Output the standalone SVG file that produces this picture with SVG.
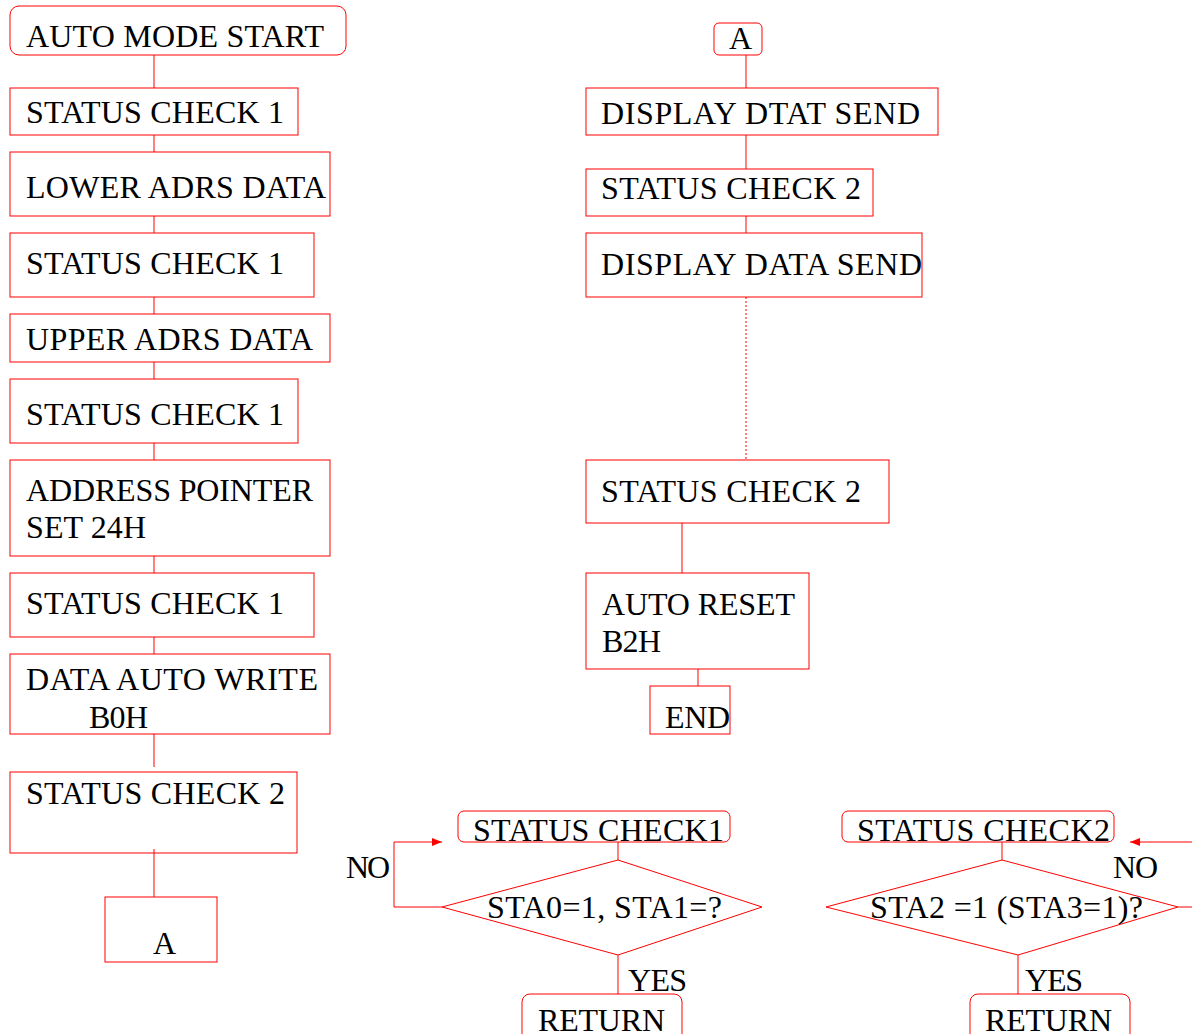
<svg xmlns="http://www.w3.org/2000/svg" width="1192" height="1034" viewBox="0 0 1192 1034">
<defs>
<style>
.b{fill:#fff;stroke:#f00;stroke-width:1}
.c{fill:none;stroke:#f00;stroke-width:1}
.d{fill:none;stroke:#f00;stroke-width:1;stroke-dasharray:2 2}
text{font-family:"Liberation Serif","Times New Roman",serif;font-size:32px;fill:#000}
</style>
<marker id="ah" viewBox="0 0 10 10" refX="10" refY="5" markerWidth="10" markerHeight="10" markerUnits="userSpaceOnUse" orient="auto"><path d="M0,1 L10,5 L0,9 Z" fill="#f00"/></marker>
</defs>
<rect width="1192" height="1034" fill="#fff"/>
<g id="connectors">
<line class="c" x1="154" y1="55" x2="154" y2="88"/>
<line class="c" x1="154" y1="135" x2="154" y2="152"/>
<line class="c" x1="154" y1="216" x2="154" y2="233"/>
<line class="c" x1="154" y1="297" x2="154" y2="314"/>
<line class="c" x1="154" y1="362" x2="154" y2="379"/>
<line class="c" x1="154" y1="443" x2="154" y2="460"/>
<line class="c" x1="154" y1="556" x2="154" y2="573"/>
<line class="c" x1="154" y1="637" x2="154" y2="654"/>
<line class="c" x1="154" y1="734" x2="154" y2="767"/>
<line class="c" x1="154" y1="849" x2="154" y2="897"/>
<line class="c" x1="746" y1="55" x2="746" y2="88"/>
<line class="c" x1="746" y1="135" x2="746" y2="169"/>
<line class="c" x1="746" y1="216" x2="746" y2="233"/>
<line class="d" x1="746" y1="297" x2="746" y2="460"/>
<line class="c" x1="682" y1="523" x2="682" y2="573"/>
<line class="c" x1="698" y1="669" x2="698" y2="686"/>
<line class="c" x1="618" y1="842" x2="618" y2="860"/>
<polyline class="c" points="442,907 394,907 394,842 442,842" marker-end="url(#ah)"/>
<line class="c" x1="618" y1="955" x2="618" y2="994"/>
<line class="c" x1="1002" y1="842" x2="1002" y2="860"/>
<line class="c" x1="1178" y1="907" x2="1192" y2="907"/>
<line class="c" x1="1192" y1="842" x2="1130" y2="842" marker-end="url(#ah)"/>
<line class="c" x1="1018" y1="955" x2="1018" y2="994"/>
</g>
<g id="n1"><rect class="b" x="10" y="6" width="336" height="49" rx="9"/><text x="26" y="47" textLength="298" lengthAdjust="spacing">AUTO MODE START</text></g>
<g id="n2"><rect class="b" x="10" y="88" width="288" height="47"/><text x="26" y="123" textLength="258" lengthAdjust="spacing">STATUS CHECK 1</text></g>
<g id="n3"><rect class="b" x="10" y="152" width="320" height="64"/><text x="26" y="198" textLength="300" lengthAdjust="spacing">LOWER ADRS DATA</text></g>
<g id="n4"><rect class="b" x="10" y="233" width="304" height="64"/><text x="26" y="274" textLength="258" lengthAdjust="spacing">STATUS CHECK 1</text></g>
<g id="n5"><rect class="b" x="10" y="314" width="320" height="48"/><text x="26" y="350" textLength="287" lengthAdjust="spacing">UPPER ADRS DATA</text></g>
<g id="n6"><rect class="b" x="10" y="379" width="288" height="64"/><text x="26" y="425" textLength="258" lengthAdjust="spacing">STATUS CHECK 1</text></g>
<g id="n7"><rect class="b" x="10" y="460" width="320" height="96"/><text x="26" y="501" textLength="287" lengthAdjust="spacing">ADDRESS POINTER</text><text x="26" y="538" textLength="120" lengthAdjust="spacing">SET 24H</text></g>
<g id="n8"><rect class="b" x="10" y="573" width="304" height="64"/><text x="26" y="614" textLength="258" lengthAdjust="spacing">STATUS CHECK 1</text></g>
<g id="n9"><rect class="b" x="10" y="654" width="320" height="80"/><text x="26" y="690" textLength="292" lengthAdjust="spacing">DATA AUTO WRITE</text><text x="89" y="728" textLength="59" lengthAdjust="spacing">B0H</text></g>
<g id="n10"><rect class="b" x="10" y="772" width="287" height="81"/><text x="26" y="804" textLength="259" lengthAdjust="spacing">STATUS CHECK 2</text></g>
<line class="c" x1="154" y1="849" x2="154" y2="853"/>
<g id="n11"><rect class="b" x="105" y="897" width="112" height="65"/><text x="153" y="954">A</text></g>
<g id="r1"><rect class="b" x="714" y="23" width="48" height="32" rx="5"/><text x="729" y="49">A</text></g>
<g id="r2"><rect class="b" x="586" y="88" width="352" height="47"/><text x="601" y="124" textLength="319" lengthAdjust="spacing">DISPLAY DTAT SEND</text></g>
<g id="r3"><rect class="b" x="586" y="169" width="287" height="47"/><text x="601" y="199" textLength="260" lengthAdjust="spacing">STATUS CHECK 2</text></g>
<g id="r4"><rect class="b" x="586" y="233" width="336" height="64"/><text x="601" y="275" textLength="321" lengthAdjust="spacing">DISPLAY DATA SEND</text></g>
<g id="r5"><rect class="b" x="586" y="460" width="303" height="63"/><text x="601" y="502" textLength="260" lengthAdjust="spacing">STATUS CHECK 2</text></g>
<g id="r6"><rect class="b" x="586" y="573" width="223" height="96"/><text x="602" y="615" textLength="193" lengthAdjust="spacing">AUTO RESET</text><text x="602" y="652" textLength="59" lengthAdjust="spacing">B2H</text></g>
<g id="r7"><rect class="b" x="650" y="686" width="80" height="48"/><text x="665" y="728" textLength="65" lengthAdjust="spacing">END</text></g>
<g id="s1"><rect class="b" x="458" y="811" width="272" height="31" rx="6"/><text x="473" y="841" textLength="251" lengthAdjust="spacing">STATUS CHECK1</text></g>
<g id="s1d"><polygon class="b" points="618,860 762,907 618,955 442,907"/><text x="487" y="918" textLength="235" lengthAdjust="spacing">STA0=1, STA1=?</text></g>
<g id="s1r"><rect class="b" x="522" y="994" width="160" height="50" rx="8"/><text x="538" y="1031" textLength="127" lengthAdjust="spacing">RETURN</text></g>
<text x="346" y="878" textLength="44" lengthAdjust="spacing">NO</text>
<text x="628" y="991" textLength="59" lengthAdjust="spacing">YES</text>
<g id="s2"><rect class="b" x="842" y="811" width="272" height="31" rx="6"/><text x="857" y="841" textLength="253" lengthAdjust="spacing">STATUS CHECK2</text></g>
<g id="s2d"><polygon class="b" points="1002,860 1178,907 1018,955 826,907"/><text x="870" y="918" textLength="273" lengthAdjust="spacing">STA2 =1 (STA3=1)?</text></g>
<g id="s2r"><rect class="b" x="970" y="994" width="160" height="50" rx="8"/><text x="985" y="1031" textLength="127" lengthAdjust="spacing">RETURN</text></g>
<text x="1113" y="878" textLength="45" lengthAdjust="spacing">NO</text>
<text x="1025" y="991" textLength="58" lengthAdjust="spacing">YES</text>
</svg>
